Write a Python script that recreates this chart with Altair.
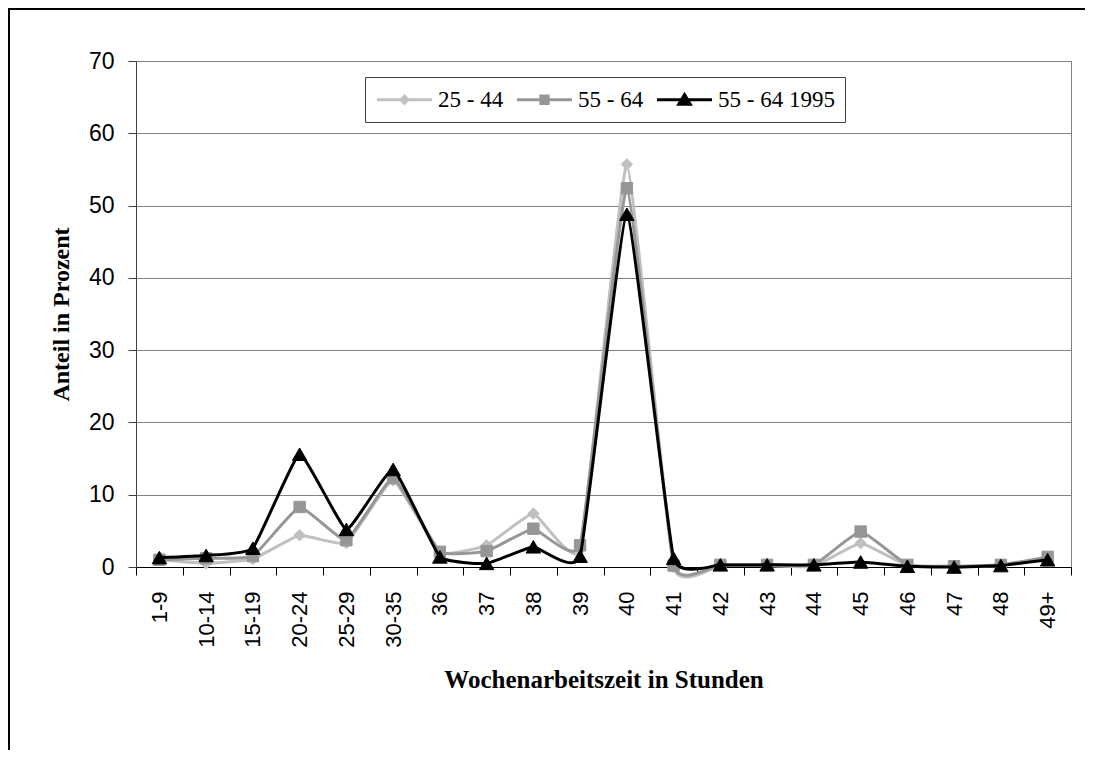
import altair as alt
import pandas as pd

kategorien = ["1-9", "10-14", "15-19", "20-24", "25-29", "30-35", "36", "37", "38", "39",
              "40", "41", "42", "43", "44", "45", "46", "47", "48", "49+"]
werte_25_44 = [1.0, 0.5, 1.1, 4.4, 3.3, 12.0, 2.0, 3.0, 7.4, 2.4,
               55.7, 0.0, 0.2, 0.2, 0.1, 3.3, 0.2, 0.1, 0.2, 1.2]
werte_55_64 = [1.0, 1.2, 1.5, 8.3, 3.7, 12.3, 2.1, 2.2, 5.3, 3.0,
               52.4, 0.2, 0.3, 0.3, 0.3, 4.9, 0.3, 0.1, 0.3, 1.4]
werte_55_64_1995 = [1.3, 1.6, 2.6, 15.6, 5.2, 13.5, 1.4, 0.5, 2.8, 1.5,
                    48.8, 1.2, 0.3, 0.3, 0.3, 0.7, 0.1, 0.0, 0.2, 1.0]
reihen = ["25 - 44", "55 - 64", "55 - 64 1995"]
farben = ["#C0C0C0", "#969696", "#000000"]
formen = ["diamond", "square", "triangle-up"]
groessen = [130, 130, 210]
# legend symbols: line segment plus a marker, drawn as nested outlines so it looks filled
legenden_pfade = [
    "M-2.5,0H2.5M0,-0.32L0.32,0L0,0.32L-0.32,0ZM0,-0.1L0.1,0L0,0.1L-0.1,0Z",
    "M-2.5,0H2.5M-0.33,-0.33H0.33V0.33H-0.33ZM-0.08,-0.08H0.08V0.08H-0.08Z",
    "M-2.5,0H2.5M0,-0.47L0.52,0.4H-0.52ZM0,-0.08L0.12,0.13H-0.12Z",
]

rows = []
for reihe, werte in zip(reihen, [werte_25_44, werte_55_64, werte_55_64_1995]):
    for i, (k, v) in enumerate(zip(kategorien, werte)):
        rows.append({"idx": i, "kategorie": k, "wert": v, "reihe": reihe})
df = pd.DataFrame(rows)

W, H = 935, 506
n = len(kategorien)
half = W / n / 2

label_expr = "[" + ",".join("'" + k + "'" for k in kategorien) + "][round(datum.value + 0.5)] || ''"

x_enc = alt.X(
    "idx:Q",
    scale=alt.Scale(domain=[-0.5, n - 0.5], nice=False, zero=False),
    axis=alt.Axis(
        values=[i - 0.5 for i in range(n + 1)],
        labelExpr=label_expr,
        labelOffset=half,
        labelAngle=270,
        labelAlign="right",
        labelBaseline="middle",
        labelFlush=False,
        labelOverlap=False,
        labelBound=False,
        labelPadding=16,
        labelFont="Liberation Sans",
        labelFontSize=22,
        labelColor="#000000",
        tickSize=8,
        tickColor="#000000",
        domainColor="#000000",
        grid=False,
        title="Wochenarbeitszeit in Stunden",
        titleFont="Liberation Serif",
        titleFontSize=25,
        titleFontWeight="bold",
        titleColor="#000000",
        titleX=W / 2,
        titleY=120,
        titleAlign="center",
        titleBaseline="alphabetic",
    ),
)
y_enc = alt.Y(
    "wert:Q",
    scale=alt.Scale(domain=[0, 70], nice=False),
    axis=alt.Axis(
        values=list(range(0, 71, 10)),
        tickSize=8,
        tickColor="#404040",
        domainColor="#404040",
        labelPadding=14,
        labelFont="Liberation Sans",
        labelFontSize=23,
        labelColor="#000000",
        grid=True,
        gridColor="#808080",
        gridWidth=1,
        title="Anteil in Prozent",
        titleFont="Liberation Serif",
        titleFontSize=24,
        titleFontWeight="bold",
        titleColor="#000000",
        titleAngle=270,
        titleX=-68,
        titleY=H / 2,
        titleAlign="center",
        titleBaseline="alphabetic",
    ),
)

base = alt.Chart(df)
layers = []
for reihe, farbe, form, gr in zip(reihen, farben, formen, groessen):
    sub = base.transform_filter(alt.datum.reihe == reihe)
    layers.append(
        sub.mark_line(interpolate="cardinal", tension=0.65, strokeWidth=3, color=farbe).encode(x=x_enc, y=y_enc)
    )
    layers.append(
        sub.mark_point(filled=True, opacity=1, shape=form, size=gr, color=farbe,
                       stroke=farbe, strokeWidth=1).encode(x=x_enc, y=y_enc)
    )


def make_legend():
    return alt.Legend(
        title=None,
        orient="none",
        legendX=229,
        legendY=16,
        direction="horizontal",
        columns=3,
        padding=10,
        strokeColor="#404040",
        fillColor="#FFFFFF",
        cornerRadius=0,
        labelFont="Liberation Serif",
        labelFontSize=23,
        labelColor="#000000",
        symbolSize=484,
        symbolStrokeWidth=3,
        symbolOffset=17,
        labelOffset=21,
        columnPadding=7,
    )


legende = base.transform_filter("false").mark_point(
    filled=False, opacity=1, strokeWidth=3, size=484
).encode(
    x=x_enc,
    y=y_enc,
    color=alt.Color("reihe:N", scale=alt.Scale(domain=reihen, range=farben), legend=make_legend()),
    shape=alt.Shape("reihe:N", scale=alt.Scale(domain=reihen, range=legenden_pfade), legend=make_legend()),
)
layers.append(legende)

rahmen = alt.Chart(alt.Data(values=[{"a": 1}])).mark_rect(
    filled=False, stroke="#000000", strokeWidth=2
).encode(
    x=alt.value(-127), x2=alt.value(2000), y=alt.value(-52), y2=alt.value(2000)
)
layers.append(rahmen)

chart = alt.layer(*layers).properties(
    width=W,
    height=H,
    background="#FFFFFF",
    autosize=alt.AutoSizeParams(type="none"),
    padding={"left": 128, "top": 53, "right": 14, "bottom": 183},
).configure_view(
    stroke="#808080", strokeWidth=1
)

chart.save("out.html", embed_options={"renderer": "svg", "actions": False})
